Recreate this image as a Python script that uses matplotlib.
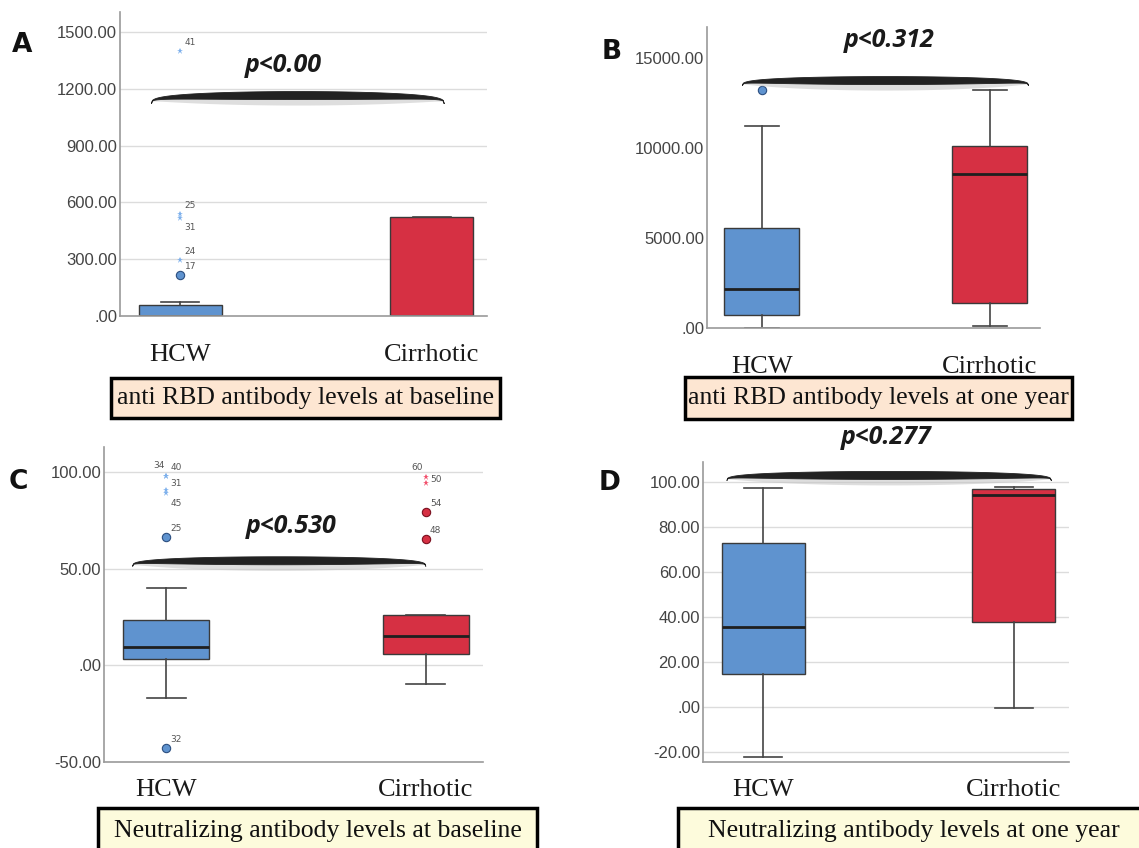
import matplotlib
matplotlib.use("Agg")
import matplotlib.pyplot as plt
import numpy as np
from matplotlib.patches import Polygon, Rectangle
from matplotlib.transforms import IdentityTransform

# ---- data ----
groups = ["HCW", "Cirrhotic"]

# A: anti RBD antibody levels at baseline
A_q1 = [0, 0]
A_med = [0, 0]
A_q3 = [60, 525]
A_lo = [0, 0]
A_hi = [76, 525]
A_out_grp = [1, 1, 1, 1, 1]
A_out_val = [1400, 540, 520, 296, 216]
A_out_id = ["41", "25", "31", "24", "17"]
A_out_kind = ["*", "*", "*", "*", "o"]

# B: anti RBD antibody levels at one year
B_q1 = [722, 1400]
B_med = [2166, 8550]
B_q3 = [5555, 10070]
B_lo = [0, 110]
B_hi = [11220, 13220]
B_out_grp = [1]
B_out_val = [13180]
B_out_id = [""]
B_out_kind = ["o"]

# C: neutralizing antibody levels at baseline
C_q1 = [3.4, 5.7]
C_med = [9.6, 15.1]
C_q3 = [23.7, 26.3]
C_lo = [-17, -9.8]
C_hi = [40, 26.3]
C_out_grp = [1, 1, 1, 1, 1, 1, 2, 2, 2, 2]
C_out_val = [98, 98, 91, 89, 66.3, -43, 97.3, 94.5, 79.2, 65.3]
C_out_id = ["34", "40", "31", "45", "25", "32", "60", "50", "54", "48"]
C_out_kind = ["*", "*", "*", "*", "o", "o", "*", "*", "o", "o"]

# D: neutralizing antibody levels at one year
D_q1 = [14.8, 37.6]
D_med = [35.4, 94.5]
D_q3 = [72.9, 96.9]
D_lo = [-22.2, -0.6]
D_hi = [97.6, 97.8]

p_texts = ["p<0.00", "p<0.312", "p<0.530", "p<0.277"]
captions = ["anti RBD antibody levels at baseline",
            "anti RBD antibody levels at one year",
            "Neutralizing antibody levels at baseline",
            "Neutralizing antibody levels at one year"]

BLUE = "#5F93CF"
RED = "#D63043"
STAR_COL = ["#7DB0EC", "#F2506C"]
GRID = "#dcdcdc"

W, H = 1139, 848
fig = plt.figure(figsize=(W / 100, H / 100), dpi=100)
fig.patch.set_facecolor("white")


def px_axes(l, t, r, b):
    return fig.add_axes([l / W, 1 - b / H, (r - l) / W, (b - t) / H])


def fmt(v):
    s = f"{v:.2f}"
    if s.startswith("0"):
        s = s[1:]
    return s


def boxes(ax, q1, med, q3, lo, hi):
    stats = []
    for i in range(2):
        stats.append(dict(q1=q1[i], med=med[i], q3=q3[i], whislo=lo[i], whishi=hi[i], fliers=[]))
    bp = ax.bxp(stats, positions=[1, 2], widths=0.33, patch_artist=True, showfliers=False,
                capwidths=0.15, manage_ticks=False,
                boxprops=dict(edgecolor="#3a3a3a", linewidth=1.0),
                medianprops=dict(color="#1f1f1f", linewidth=2.0),
                whiskerprops=dict(color="#444444", linewidth=1.2),
                capprops=dict(color="#444444", linewidth=1.2))
    for patch, c in zip(bp["boxes"], [BLUE, RED]):
        patch.set_facecolor(c)
    return bp


def outliers(ax, grp, vals, ids, kinds, moves=None):
    moves = moves or {}
    for g, v, i, k in zip(grp, vals, ids, kinds):
        col = [BLUE, RED][g - 1]
        if k == "o":
            ax.plot(g, v, "o", ms=6, mfc=col, mec="#2c4f80" if g == 1 else "#7a1020", mew=0.8, zorder=5)
        else:
            ax.plot(g, v, "*", ms=5, color=STAR_COL[g - 1], mew=0, zorder=5)
        if not i:
            continue
        dx, dy, ha, va = moves.get(i, (3, 3, "left", "bottom"))
        ax.annotate(i, (g, v), xytext=(dx, dy), textcoords="offset points",
                    ha=ha, va=va, fontsize=6.5, color="#555555")


def style(ax, ylim, ticks, grid, pad):
    ax.set_xlim(0.76, 2.22)
    ax.set_ylim(*ylim)
    ax.set_yticks(ticks)
    ax.set_yticklabels([fmt(t) for t in ticks])
    ax.set_xticks([1, 2])
    ax.set_xticklabels(groups, fontfamily="Liberation Serif", fontsize=19, color="#1a1a1a")
    ax.tick_params(axis="y", length=0, pad=2, labelsize=12, labelcolor="#444444")
    ax.tick_params(axis="x", length=0, pad=pad)
    for lab in ax.get_yticklabels():
        lab.set_fontfamily("Liberation Sans")
    for s in ["top", "right"]:
        ax.spines[s].set_visible(False)
    for s in ["left", "bottom"]:
        ax.spines[s].set_color("#9a9a9a")
        ax.spines[s].set_linewidth(1.2)
    if grid:
        for t in ticks:
            if t > ylim[0]:
                ax.axhline(t, color=GRID, lw=1.0, zorder=0)
    ax.set_facecolor("white")


def arc(ax, x0, x1, y_end, y_crest, thick=8):
    t = np.linspace(-1, 1, 300)
    xs = x0 + (t + 1) / 2 * (x1 - x0)
    X = ax.transData.transform(np.column_stack([xs, np.full_like(xs, y_end)]))[:, 0]
    ye = ax.transData.transform([[1, y_end]])[0, 1]
    yc = ax.transData.transform([[1, y_crest]])[0, 1]
    prof = (1 - t ** 2) ** 0.3
    top = ye + (yc - ye) * prof
    bot = top - thick * (1 - t ** 2) ** 0.6
    shadow = np.concatenate([np.column_stack([X, bot + 1]),
                             np.column_stack([X[::-1], (bot - 6 * (1 - t ** 2) ** 0.5)[::-1]])])
    fig.add_artist(Polygon(shadow, closed=True, transform=IdentityTransform(), fc="#c4c4c4", ec="none", alpha=0.55))
    verts = np.concatenate([np.column_stack([X, top]), np.column_stack([X[::-1], bot[::-1]])])
    fig.add_artist(Polygon(verts, closed=True, transform=IdentityTransform(), fc="#222222", ec="#222222", lw=0.6))


def ptext(ax, x, y, s):
    ax.text(x, y, s, ha="center", va="center", fontfamily="Open Sans", fontweight="bold",
            fontstyle="italic", fontsize=18, color="#1a1a1a", clip_on=False)


def caption(l, t, r, b, s, fc, ty):
    fig.add_artist(Rectangle((l / W, 1 - b / H), (r - l) / W, (b - t) / H, transform=fig.transFigure,
                             fc=fc, ec="black", lw=2.5))
    fig.text((l + r) / 2 / W, 1 - ty / H, s, ha="center", va="center",
             fontfamily="Liberation Serif", fontsize=18.5, color="#111111")


# ---- panel A ----
axA = px_axes(120, 12, 487, 316)
boxes(axA, A_q1, A_med, A_q3, A_lo, A_hi)
style(axA, (0, 1605), [0, 300, 600, 900, 1200, 1500], True, 20)
outliers(axA, A_out_grp, A_out_val, A_out_id, A_out_kind,
         {"31": (3, -4, "left", "top")})

# ---- panel B ----
axB = px_axes(707, 27, 1040, 328)
boxes(axB, B_q1, B_med, B_q3, B_lo, B_hi)
style(axB, (0, 16700), [0, 5000, 10000, 15000], False, 20)
outliers(axB, B_out_grp, B_out_val, B_out_id, B_out_kind)

# ---- panel C ----
axC = px_axes(104, 447, 483, 762)
boxes(axC, C_q1, C_med, C_q3, C_lo, C_hi)
style(axC, (-50, 113), [-50, 0, 50, 100], True, 12)
outliers(axC, C_out_grp, C_out_val, C_out_id, C_out_kind,
         {"34": (-1, 4, "right", "bottom"), "60": (-2, 4, "right", "bottom"),
          "31": (3, 1, "left", "bottom"), "45": (3, -4, "left", "top"),
          "50": (3, -1, "left", "bottom")})

# ---- panel D ----
axD = px_axes(703, 462, 1069, 762)
boxes(axD, D_q1, D_med, D_q3, D_lo, D_hi)
style(axD, (-24.6, 109), [-20, 0, 20, 40, 60, 80, 100], True, 12)

# significance arcs and p values
arc(axA, 0.885, 2.05, 1120, 1185)
ptext(axA, 1.41, 1320, p_texts[0])
arc(axB, 0.915, 2.17, 13440, 13950)
ptext(axB, 1.56, 15940, p_texts[1])
arc(axC, 0.87, 2.0, 51.2, 56.2)
ptext(axC, 1.48, 72, p_texts[2])
arc(axD, 0.855, 2.15, 100.7, 104.8)
ptext(axD, 1.49, 120, p_texts[3])

# caption boxes
caption(111, 378, 500, 418, captions[0], "#fde6d2", 398)
caption(685, 377, 1072, 419, captions[1], "#fde6d2", 398)
caption(98, 808, 537, 860, captions[2], "#fdfbdc", 831)
caption(678, 808, 1150, 860, captions[3], "#fdfbdc", 831)

# panel letters
for s, x, y in [("A", 22, 45), ("B", 612, 52), ("C", 18, 482), ("D", 610, 483)]:
    fig.text(x / W, 1 - y / H, s, ha="center", va="center", fontfamily="DejaVu Sans",
             fontweight="heavy", fontsize=19, color="#111111")

fig.savefig("out.png", dpi=100)
